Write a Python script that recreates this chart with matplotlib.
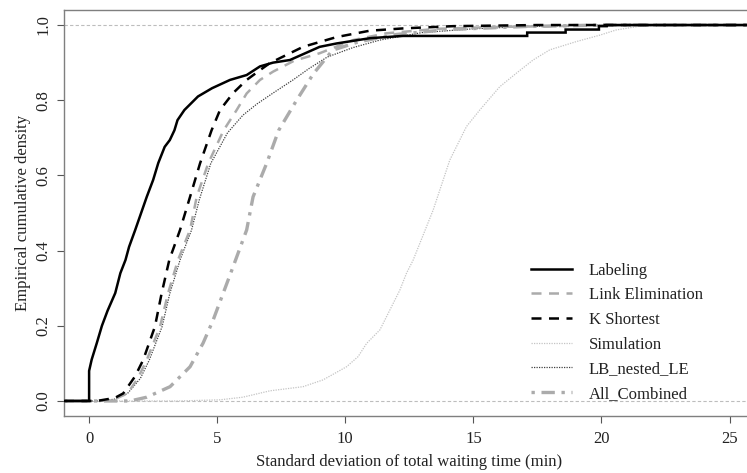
import matplotlib
matplotlib.use("Agg")
import matplotlib.pyplot as plt
from matplotlib.lines import Line2D

# ---------------- data ----------------
series_names = ["Labeling", "Link Elimination", "K Shortest",
                "Simulation", "LB_nested_LE", "All_Combined"]

labeling_x = [0, 0, 0.1, 0.3, 0.5, 0.72, 1.02, 1.22, 1.42, 1.56, 1.8, 2.25, 2.5, 2.7,
              2.95, 3.15, 3.33, 3.45, 3.72, 4.25, 4.8, 5.5, 6.15, 6.67, 7.18, 7.84, 9.0,
              9.66, 10.96, 12.25, 17.1, 17.1, 18.6, 18.6, 19.9, 19.9, 20.2, 20.2]
labeling_y = [0, 0.08, 0.11, 0.154, 0.2, 0.24, 0.287, 0.34, 0.375, 0.41, 0.455, 0.543,
              0.588, 0.633, 0.676, 0.694, 0.72, 0.747, 0.774, 0.81, 0.832, 0.854, 0.867,
              0.89, 0.90, 0.907, 0.942, 0.951, 0.965, 0.971, 0.971, 0.98, 0.98, 0.988,
              0.988, 0.997, 0.997, 1.0]

link_elim_x = [0.4, 1.0, 1.5, 1.9, 2.25, 2.77, 3.08, 3.47, 3.94, 4.2, 4.65, 5.25, 5.76,
               6.15, 6.67, 7.18, 8.0, 9.0, 10.3, 11.6, 13.6, 16.0, 19.0, 21.0]
link_elim_y = [0, 0.005, 0.02, 0.06, 0.109, 0.198, 0.286, 0.375, 0.455, 0.543, 0.632,
               0.72, 0.774, 0.818, 0.854, 0.876, 0.905, 0.925, 0.96, 0.978, 0.99, 0.995,
               0.998, 1.0]

k_short_x = [0.3, 1.0, 1.33, 1.79, 2.11, 2.57, 2.83, 3.13, 3.55, 3.94, 4.33, 4.78, 5.11,
             5.62, 6.15, 6.67, 7.06, 7.45, 8.35, 9.66, 10.96, 12.25, 14.2, 17.5]
k_short_y = [0, 0.008, 0.02, 0.065, 0.109, 0.198, 0.286, 0.375, 0.455, 0.543, 0.632,
             0.72, 0.774, 0.819, 0.854, 0.88, 0.899, 0.912, 0.942, 0.968, 0.985, 0.991,
             0.997, 1.0]

simulation_x = [3.5, 5.1, 6.0, 7.06, 8.35, 9.13, 10.05, 10.5, 10.83, 11.35, 11.74, 12.13,
                12.39, 12.65, 13.43, 14.08, 14.73, 15.25, 16.03, 16.68, 17.33, 17.98,
                19.02, 19.93, 20.58, 21.5, 22.5]
simulation_y = [0, 0.003, 0.01, 0.027, 0.038, 0.056, 0.091, 0.118, 0.153, 0.189, 0.242,
                0.295, 0.34, 0.375, 0.508, 0.641, 0.73, 0.774, 0.836, 0.872, 0.907, 0.934,
                0.956, 0.973, 0.987, 0.997, 1.0]

lb_nested_x = [0.5, 1.0, 1.5, 2.0, 2.35, 2.85, 3.15, 3.55, 4.0, 4.3, 4.75, 5.4, 6.0, 6.55,
               7.2, 7.96, 8.6, 9.3, 10.3, 11.35, 13.0, 15.0, 17.0, 19.5]
lb_nested_y = [0, 0.005, 0.02, 0.06, 0.109, 0.198, 0.286, 0.375, 0.455, 0.535, 0.632,
               0.713, 0.76, 0.79, 0.82, 0.854, 0.885, 0.915, 0.94, 0.96, 0.98, 0.99,
               0.996, 1.0]

all_comb_x = [1.6, 2.25, 3.16, 3.94, 4.45, 4.84, 5.23, 5.62, 6.15, 6.4, 6.93, 7.4, 8.1,
              8.75, 9.5, 10.5, 12.0, 14.0, 17.0, 20.0]
all_comb_y = [0, 0.01, 0.038, 0.091, 0.154, 0.215, 0.286, 0.357, 0.455, 0.543, 0.632,
              0.72, 0.8, 0.87, 0.933, 0.955, 0.975, 0.988, 0.996, 1.0]

x_ticks = [0, 5, 10, 15, 20, 25]
y_ticks = [0.0, 0.2, 0.4, 0.6, 0.8, 1.0]
y_tick_labels = ["0.0", "0.2", "0.4", "0.6", "0.8", "1.0"]
x_label = "Standard deviation of total waiting time (min)"
y_label = "Empirical cumulative density"

# ---------------- styling ----------------
plt.rcParams["font.family"] = ["Liberation Serif", "DejaVu Serif"]
plt.rcParams["font.size"] = 12

W, H = 747, 473
fig = plt.figure(figsize=(W / 100, H / 100), dpi=100)
ax = fig.add_axes([64 / W, (H - 416) / H, (W - 64) / W, (416 - 10) / H])

xlim = (-0.98, 25.68)
ylim = (-0.04, 1.04)
ax.set_xlim(*xlim)
ax.set_ylim(*ylim)

# reference lines at 0 and 1
for h in (0, 1):
    ax.axhline(h, color="#bdbdbd", lw=0.8, ls=(0, (3, 2)), zorder=1)

styles = [
    dict(color="black", lw=1.8, ls="-"),
    dict(color="#ababab", lw=1.8, ls=(0, (4, 3))),
    dict(color="black", lw=1.8, ls=(0, (4, 3))),
    dict(color="#c4c4c4", lw=0.9, ls=(0, (1, 1))),
    dict(color="#404040", lw=0.9, ls=(0, (1, 1))),
    dict(color="#ababab", lw=2.4, ls=(0, (1, 2, 4, 2))),
]
datas = [(labeling_x, labeling_y), (link_elim_x, link_elim_y), (k_short_x, k_short_y),
         (simulation_x, simulation_y), (lb_nested_x, lb_nested_y), (all_comb_x, all_comb_y)]

draw_order = [3, 4, 5, 1, 2, 0]
for i in draw_order:
    xs, ys = datas[i]
    # ecdf-style extensions to the plot edges
    xs_full = [xlim[0]] + list(xs) + [xlim[1]]
    ys_full = [ys[0]] + list(ys) + [ys[-1]]
    ax.plot(xs_full, ys_full, zorder=3, solid_joinstyle="miter", **styles[i])

# axes cosmetics
for side in ("top", "left", "bottom"):
    ax.spines[side].set_color("#7f7f7f")
    ax.spines[side].set_linewidth(1.0)
ax.spines["right"].set_visible(False)

ax.set_xticks(x_ticks)
ax.set_yticks(y_ticks)
ax.set_yticklabels(y_tick_labels, rotation=90, va="center")
ax.tick_params(axis="both", direction="out", length=5, width=0.8, color="#555555",
               labelsize=12, labelcolor="#222222")
ax.tick_params(axis="x", pad=6)
ax.tick_params(axis="y", pad=4)
ax.set_xlabel(x_label, fontsize=12, color="#222222")
ax.xaxis.set_label_coords((409 - 64) / (W - 64), -0.113)
ax.xaxis.label.set_va("center")
ax.set_ylabel(y_label, fontsize=12, color="#222222", labelpad=3)

handles = [Line2D([0], [0], **styles[i]) for i in range(6)]
leg = ax.legend(handles, series_names, loc="upper left",
                bbox_to_anchor=((524 - 64) / (W - 64), (416 - 256) / 406),
                frameon=False, handlelength=2.5, handletextpad=1.0,
                labelspacing=0.52, fontsize=12, borderaxespad=0)
for t in leg.get_texts():
    t.set_color("#222222")

fig.savefig("out.png", dpi=100)
